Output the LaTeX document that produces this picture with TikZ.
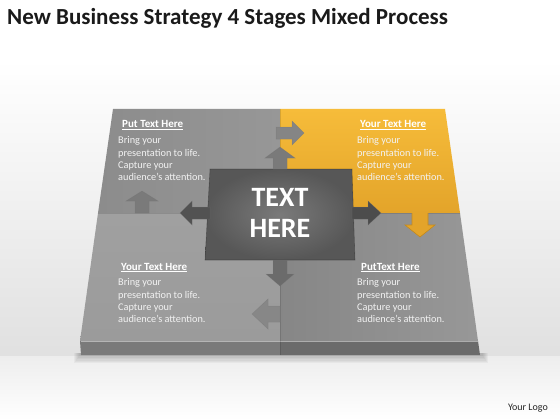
\documentclass[tikz,border=0pt]{standalone}
\usepackage{fontspec}
\setmainfont{Carlito}
\definecolor{orA}{HTML}{F6BC3A}
\definecolor{orB}{HTML}{E3A42A}
\definecolor{orD}{HTML}{C48A1C}
\definecolor{gTL}{HTML}{8C8C8C}
\definecolor{gTLb}{HTML}{979797}
\definecolor{gBL}{HTML}{9B9B9B}
\definecolor{gBR}{HTML}{929292}
\definecolor{gFL}{HTML}{7A7A7A}
\definecolor{gFR}{HTML}{6B6B6B}
\definecolor{boxO}{HTML}{575757}
\definecolor{boxI}{HTML}{7A7A7A}
\definecolor{titlec}{HTML}{1A1A1A}
\begin{document}
\begin{tikzpicture}[x=1pt,y=-1pt,
  garrow/.style={fill=#1, draw=black!55, draw opacity=0.35, line width=0.5pt},
  headtxt/.style={font=\bfseries\fontsize{11}{13}\selectfont, text=white, anchor=base west, inner sep=0pt},
  bodytxt/.style={font=\fontsize{10.3}{12.4}\selectfont, text=white!90!gray, anchor=north west, align=left, inner sep=0pt},
  divline/.style={draw=black, draw opacity=0.12, line width=0.6pt}]
\useasboundingbox (0,0) rectangle (560,420);
% background
\fill[white] (0,0) rectangle (560,420);
\shade[top color=white, bottom color=black!12] (0,60) rectangle (560,356);
\shade[top color=black!7, bottom color=white] (0,356) rectangle (560,420);
% soft shadow under the board
\foreach \k in {1,...,6}{
  \fill[black, opacity=0.035] (80-\k,353) rectangle (482+\k,355+1.4*\k);
}
% quadrants of the top face
\shade[left color=gTL, right color=gTLb] (113,109) -- (280,109) -- (280,213) -- (98,213) -- cycle;
\shade[top color=orA, bottom color=orB] (280,109) -- (445,109) -- (460,213) -- (280,213) -- cycle;
\shade[top color=gBL!95!white, bottom color=gBL] (98,213) -- (280,213) -- (280,341) -- (80,341) -- cycle;
\shade[left color=gBR!92!black, right color=gBR!95!white] (280,213) -- (460,213) -- (478,341) -- (280,341) -- cycle;
% front face
\fill[gFL] (80,341) -- (280,341) -- (280,355) -- (81,355) -- cycle;
\fill[gFR] (280,341) -- (478,341) -- (480,355) -- (280,355) -- cycle;
\draw[white, opacity=0.45, line width=1pt] (80.5,341) -- (478,341);
\draw[divline] (98,213) -- (460,213);
\draw[divline] (280,109) -- (280,355);
% centre box
\shade[inner color=boxI, outer color=boxO] (210,169) -- (352,169) -- (355,260) -- (205,260) -- cycle;
\draw[black, opacity=0.25, line width=0.6pt] (210,169) -- (352,169) -- (355,260) -- (205,260) -- cycle;
% arrows
\filldraw[garrow=black!52] (273,169) -- (273,158) -- (265,158) -- (280,147) -- (295,158) -- (287,158) -- (287,169) -- cycle;
\filldraw[garrow=black!48] (276,127) -- (292,127) -- (292,121) -- (304,133) -- (292,145) -- (292,139) -- (276,139) -- cycle;
\filldraw[garrow=black!52] (135,213) -- (135,201) -- (126,201) -- (142,191) -- (158,201) -- (149,201) -- (149,213) -- cycle;
\filldraw[garrow=black!68] (210,207) -- (192,207) -- (192,201) -- (180,213) -- (192,225) -- (192,219) -- (210,219) -- cycle;
\filldraw[garrow=black!70] (352,207) -- (368,207) -- (368,201) -- (381,213) -- (368,225) -- (368,219) -- (352,219) -- cycle;
\filldraw[fill=orB, draw=orD, line width=0.6pt] (412,213) -- (412,225) -- (405,225) -- (420,237) -- (435,225) -- (428,225) -- (428,213);
\filldraw[garrow=black!58] (273,260) -- (273,274) -- (266,274) -- (280,286) -- (294,274) -- (287,274) -- (287,260) -- cycle;
\filldraw[garrow=black!47] (280,306) -- (268,306) -- (268,299) -- (252,314) -- (268,329) -- (268,322) -- (280,322) -- cycle;
% title and logo
\node[font=\bfseries\fontsize{23}{27}\selectfont, text=titlec, anchor=base west, inner sep=0pt] (title) at (7,25) {New Business Strategy 4 Stages Mixed Process};
\node[font=\fontsize{10}{12}\selectfont, text=black!85, anchor=base east, inner sep=0pt] (logo) at (548,410) {Your Logo};
% centre text
\node[font=\bfseries\fontsize{28}{31}\selectfont, text=white, align=center, inner sep=0pt] (ctext) at (280,213) {TEXT\\HERE};
% quadrant texts
\node[headtxt] (h1) at (122,128) {\underline{Put Text Here}};
\node[bodytxt] (b1) at (118,136.5) {Bring your\\presentation to life.\\Capture your\\audience’s attention.};
\node[headtxt] (h2) at (360,128) {\underline{Your Text Here}};
\node[bodytxt] (b2) at (357,136.5) {Bring your\\presentation to life.\\Capture your\\audience’s attention.};
\node[headtxt] (h3) at (121,270) {\underline{Your Text Here}};
\node[bodytxt] (b3) at (118,278.5) {Bring your\\presentation to life.\\Capture your\\audience’s attention.};
\node[headtxt] (h4) at (361,270) {\underline{PutText Here}};
\node[bodytxt] (b4) at (357,278.5) {Bring your\\presentation to life.\\Capture your\\audience’s attention.};
\end{tikzpicture}
\end{document}
